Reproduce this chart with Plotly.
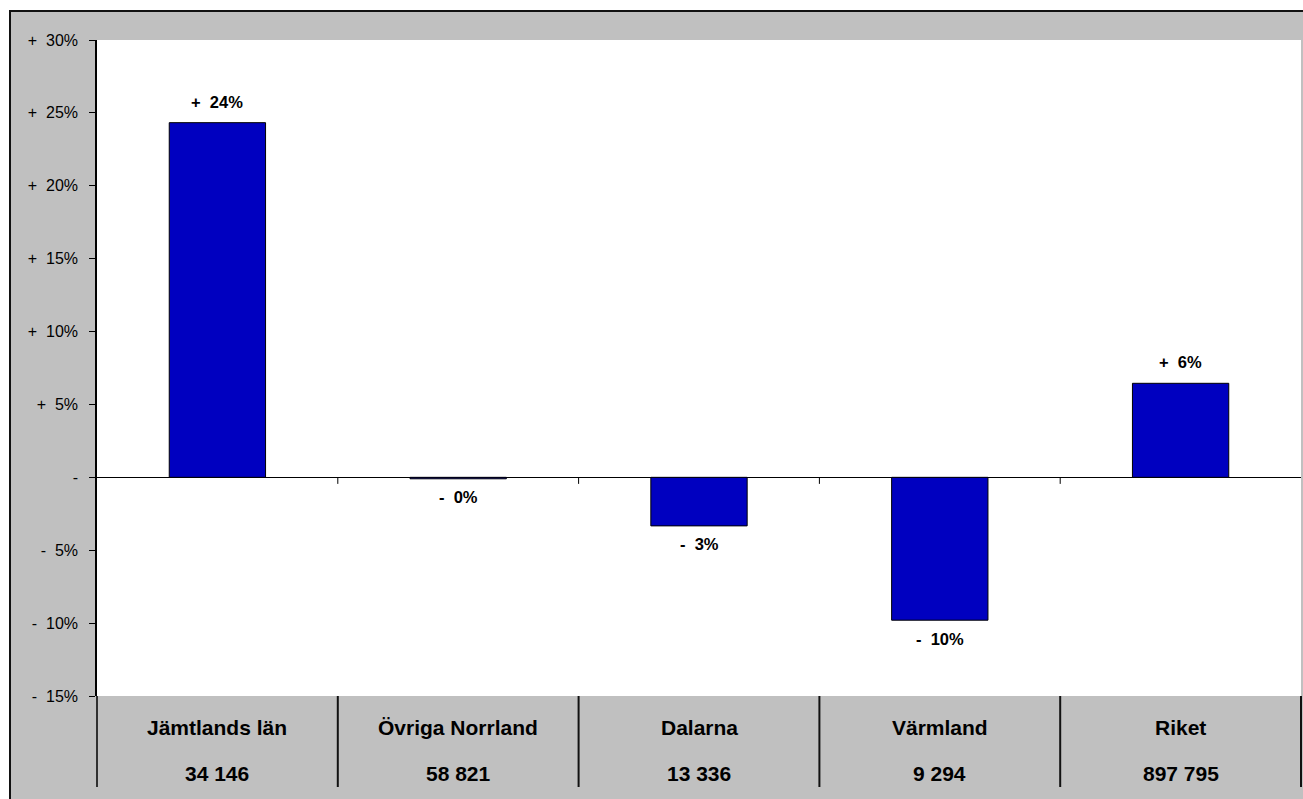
import plotly.graph_objects as go

# ---- data ----
categories = ["Jämtlands län", "Övriga Norrland", "Dalarna", "Värmland", "Riket"]
counts = ["34 146", "58 821", "13 336", "9 294", "897 795"]
change_pct = [24.33, -0.1, -3.33, -9.8, 6.45]
y_tick_vals = [30, 25, 20, 15, 10, 5, 0, -5, -10, -15]

NB = "\u00a0"
GRAY = "#c0c0c0"
BLUE = "#0000c0"
FONT = "Arial, Liberation Sans, sans-serif"


def fmt_tick(v):
    if v == 0:
        return "-"
    return ("+" if v > 0 else "-") + NB * 2 + f"{abs(v)}%"


def fmt_label(v):
    return ("+" if v > 0 else "-") + NB * 2 + f"{abs(round(v))}%"


W, H = 1303, 799
ML, MR, MT, MB = 97, 2, 40, 103
PW = W - ML - MR
PH = H - MT - MB


def px_x(px):
    return (px - ML) / PW


def px_y(py):
    return (H - MB - py) / PH


x_idx = list(range(len(categories)))

fig = go.Figure()
fig.add_trace(go.Bar(
    x=x_idx, y=change_pct, width=0.4,
    marker=dict(color=BLUE, line=dict(color="black", width=1)),
    hoverinfo="skip", showlegend=False,
))

annotations = []
for i, v in enumerate(change_pct):
    annotations.append(dict(
        x=i, y=v, xref="x", yref="y", text=f"<b>{fmt_label(v)}</b>",
        showarrow=False, font=dict(family=FONT, size=16.5, color="black"),
        yanchor="bottom" if v > 0 else "top",
        yshift=10 if v > 0 else -7.5,
    ))
    annotations.append(dict(
        x=i, y=px_y(727), xref="x", yref="paper", text=f"<b>{categories[i]}</b>",
        showarrow=False, font=dict(family=FONT, size=21, color="black"),
        yanchor="middle",
    ))
    annotations.append(dict(
        x=i, y=px_y(773), xref="x", yref="paper", text=f"<b>{counts[i]}</b>",
        showarrow=False, font=dict(family=FONT, size=21, color="black"),
        yanchor="middle",
    ))

n = len(categories)
shapes = []
# white area outside the frame
shapes.append(dict(type="rect", xref="paper", yref="paper", x0=px_x(-5), x1=px_x(W + 5),
                   y0=px_y(10), y1=px_y(-5), fillcolor="white", line=dict(width=0), layer="above"))
shapes.append(dict(type="rect", xref="paper", yref="paper", x0=px_x(-5), x1=px_x(9),
                   y0=px_y(H + 5), y1=px_y(-5), fillcolor="white", line=dict(width=0), layer="above"))
# frame lines (top and left)
shapes.append(dict(type="path", xref="paper", yref="paper",
                   path=f"M {px_x(W + 5)} {px_y(11)} L {px_x(10)} {px_y(11)} L {px_x(10)} {px_y(H + 5)}",
                   line=dict(color="#111111", width=2), layer="above"))
# y axis extension into category band
shapes.append(dict(type="line", xref="paper", yref="paper", x0=0, x1=0, y0=0, y1=px_y(787),
                   line=dict(color="black", width=1.5)))
# category separators
for k in range(1, n + 1):
    shapes.append(dict(type="line", xref="paper", yref="paper", x0=k / n, x1=k / n,
                       y0=0, y1=px_y(787), line=dict(color="#111111", width=2)))
# small ticks on zero line
for k in range(1, n):
    shapes.append(dict(type="line", xref="paper", yref="y", x0=k / n, x1=k / n,
                       y0=0, y1=-0.45, line=dict(color="black", width=1)))

fig.update_layout(
    width=W, height=H,
    margin=dict(l=ML, r=MR, t=MT, b=MB, pad=0),
    paper_bgcolor=GRAY, plot_bgcolor="white",
    font=dict(family=FONT, color="black"),
    bargap=0.6,
    annotations=annotations,
    shapes=shapes,
    xaxis=dict(range=[-0.5, n - 0.5], showticklabels=False, ticks="", showgrid=False,
               zeroline=False, showline=False, fixedrange=True),
    yaxis=dict(range=[-15, 30], tickmode="array", tickvals=y_tick_vals,
               ticktext=[fmt_tick(v) for v in y_tick_vals],
               ticks="outside", ticklen=6, tickwidth=1, tickcolor="black",
               ticklabelstandoff=8,
               tickfont=dict(family=FONT, size=16, color="black"),
               showline=True, linecolor="black", linewidth=1.5, showgrid=False,
               zeroline=True, zerolinecolor="black", zerolinewidth=1, fixedrange=True),
)

fig.write_html("out.html", config={"displayModeBar": False},
               post_script="document.body.style.margin='0';document.body.style.overflow='hidden';")
